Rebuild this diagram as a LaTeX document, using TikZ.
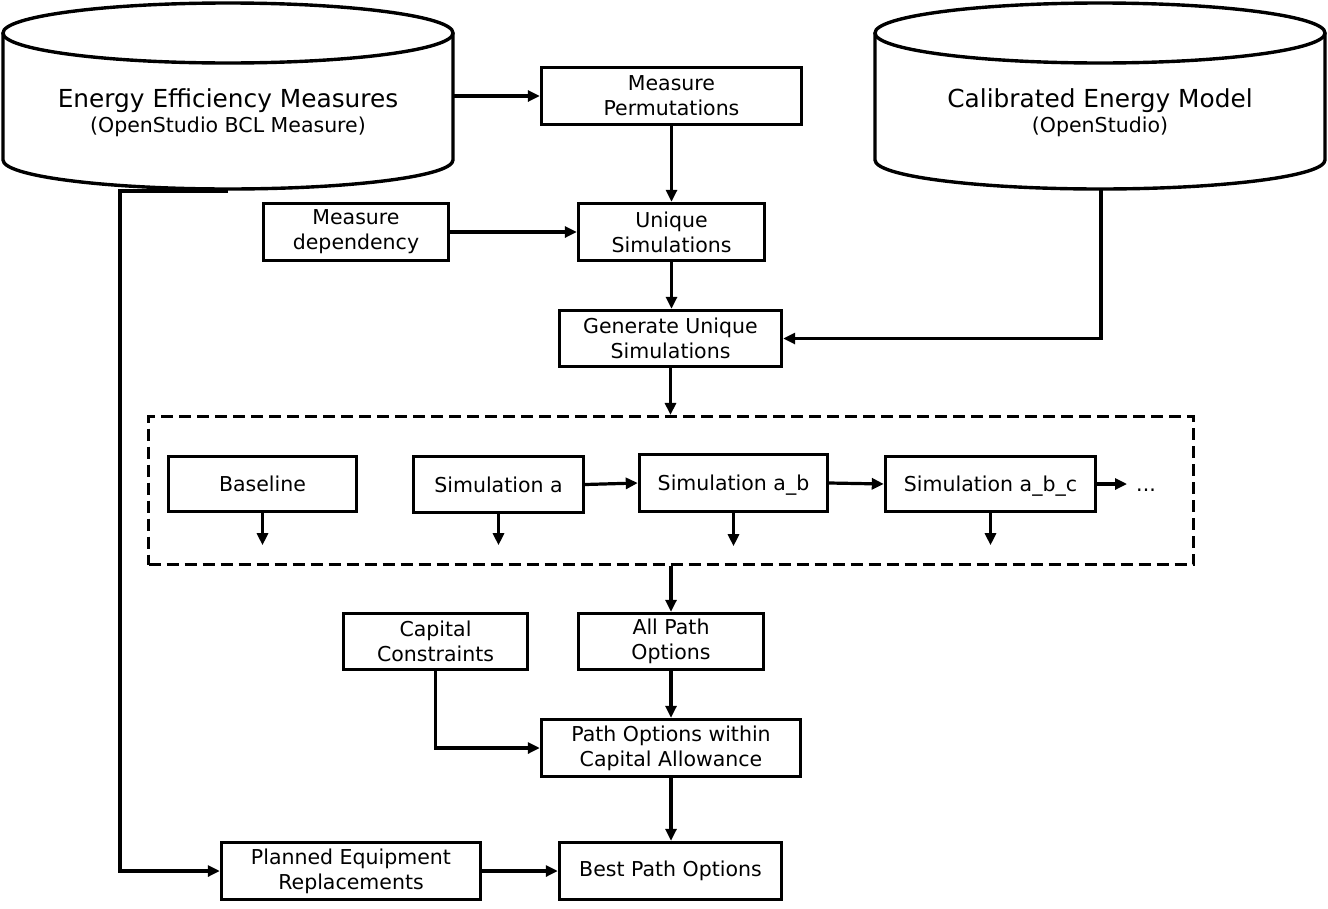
\documentclass[tikz,border=0pt]{standalone}
\usepackage{fontspec}
\setmainfont{DejaVu Sans}
\usetikzlibrary{arrows.meta}
\begin{document}
\begin{tikzpicture}[x=1pt,y=-1pt,
  box/.style={draw, line width=3.4pt, align=center, inner sep=0pt, font=\fontsize{20.5}{25}\selectfont},
  arr/.style={line width=3.2pt, -{Triangle[length=12pt,width=11pt]}},
  cyl/.style={line width=3.4pt},
  cyltext/.style={align=center, inner sep=0pt, minimum width=450pt, minimum height=127pt}]
\useasboundingbox (0,0) rectangle (1328,908);
% cylinders
\draw[cyl] (228,33) ellipse [x radius=225pt, y radius=30pt];
\draw[cyl] (3,33) -- (3,160) arc[start angle=180, end angle=360, x radius=225pt, y radius=29pt] -- (453,33);
\node[cyltext] (eem) at (228,113) {{\fontsize{24.8}{27}\selectfont Energy Efficiency Measures}\\[3pt]{\fontsize{20.5}{25}\selectfont (OpenStudio BCL Measure)}};
\coordinate (eemb) at (228,191);
\draw[cyl] (1100,33) ellipse [x radius=225pt, y radius=30pt];
\draw[cyl] (875,33) -- (875,160) arc[start angle=180, end angle=360, x radius=225pt, y radius=29pt] -- (1325,33);
\node[cyltext] (cem) at (1100,113) {{\fontsize{24.8}{27}\selectfont Calibrated Energy Model}\\[3pt]{\fontsize{20.5}{25}\selectfont (OpenStudio)}};
\coordinate (cemb) at (1101,189);
% boxes
\node[box, minimum width=260pt, minimum height=57pt] (perm) at (671.5,96) {Measure\\Permutations};
\node[box, minimum width=186pt, minimum height=57pt] (uniq) at (671.5,232) {Unique\\Simulations};
\node[box, minimum width=185pt, minimum height=57pt] (dep) at (356,232) {Measure\\dependency};
\node[box, minimum width=222pt, minimum height=56pt] (gen) at (670.5,338.5) {Generate Unique\\Simulations};
\node[draw, line width=3.2pt, dash pattern=on 12pt off 6pt, inner sep=0pt, minimum width=1045pt, minimum height=148pt] (dash) at (671,490.5) {};
\node[box, minimum width=188pt, minimum height=55pt] (base) at (262.5,484) {Baseline};
\node[box, minimum width=170pt, minimum height=56pt] (sima) at (498.5,484.5) {Simulation a};
\node[box, minimum width=188pt, minimum height=57pt] (simab) at (733.5,483) {Simulation a\smash{\_}b};
\node[box, minimum width=210pt, minimum height=55pt] (simabc) at (990.5,484) {Simulation a\smash{\_}b\smash{\_}c};
\node[anchor=base, inner sep=0pt, font=\fontsize{20.5}{25}\selectfont] (dots) at (1146,491) {...};
\node[box, minimum width=185pt, minimum height=56pt] (allp) at (671,641.5) {All Path\\Options};
\node[box, minimum width=184pt, minimum height=56pt] (capc) at (435.5,641.5) {Capital\\Constraints};
\node[box, minimum width=259pt, minimum height=57pt] (pow) at (671,748) {Path Options within\\Capital Allowance};
\node[box, minimum width=259pt, minimum height=57pt] (plan) at (351,871) {Planned Equipment\\Replacements};
\node[box, minimum width=222pt, minimum height=57pt] (best) at (670.5,871) {Best Path Options};
% connectors
\draw[arr] (eem.east |- perm.west) -- (perm.west);
\draw[arr] (perm.south) -- (perm.south |- uniq.north);
\draw[arr] (dep.east) -- (uniq.west);
\draw[arr] (uniq.south) -- (uniq.south |- gen.north);
\draw[arr] (cemb) |- (gen.east);
\draw[arr] (gen.south) -- (gen.south |- dash.north);
\draw[arr] (sima.east) -- (simab.west);
\draw[arr] (simab.east) -- (simabc.west);
\draw[arr] (simabc.east) -- ([xshift=-9pt]simabc.east -| dots.west);
\draw[arr] (base.south) -- ++(0,32);
\draw[arr] (sima.south) -- ++(0,31);
\draw[arr] (simab.south) -- ++(0,33);
\draw[arr] (simabc.south) -- ++(0,32);
\draw[arr] (dash.south) -- (dash.south |- allp.north);
\draw[arr] (allp.south) -- (allp.south |- pow.north);
\draw[arr] (capc.south) |- (pow.west);
\draw[arr] (pow.south) -- (pow.south |- best.north);
\draw[arr] (plan.east) -- (best.west);
\draw[arr] (eemb) -- (120,191) |- (plan.west);
\end{tikzpicture}
\end{document}
